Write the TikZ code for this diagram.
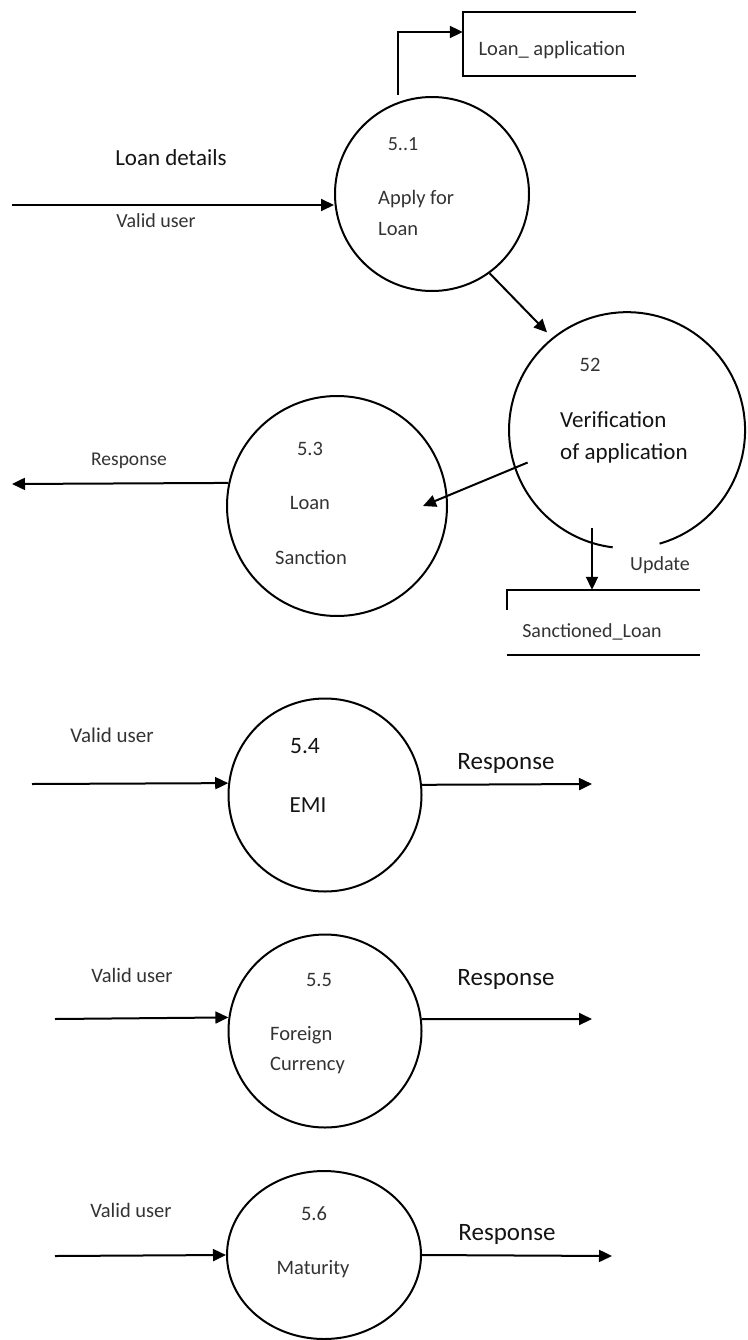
\documentclass[tikz,border=0pt]{standalone}
\usepackage{fontspec}
\setmainfont{Carlito}
\usetikzlibrary{arrows.meta,shapes.geometric}

\begin{document}
\begin{tikzpicture}[x=1pt,y=-1pt,
  proc/.style={circle,draw,line width=2pt,inner sep=0pt},
  edge/.style={line width=2pt},
  flow/.style={line width=2pt,-{Triangle[length=13pt,width=12pt]}},
  store/.style={inner sep=0pt},
  lbl/.style={inner sep=0pt,text=black!80,font=\fontsize{#1}{#1}\selectfont,
              text height=0.66em,text depth=0.2em},
  lbl/.default=20.5,
  big/.style={lbl=#1,text=black!92},
  big/.default=25]

\useasboundingbox (0,0) rectangle (747,1340);

% ---------- processes ----------
\node[proc,minimum size=194pt] (p1) at (432,194) {};
\node[circle,inner sep=0pt,minimum size=236pt] (p2) at (627,430) {};
\draw[edge] (p2.286) arc[start angle=286,end angle=623,radius=118pt];
\node[proc,minimum size=220pt] (p3) at (337,506) {};
\node[proc,minimum size=193pt] (p4) at (325,795) {};
\node[proc,minimum size=193pt] (p5) at (325,1031) {};
\node[ellipse,draw,line width=2pt,inner sep=0pt,
      minimum width=194pt,minimum height=168pt] (p6) at (324,1255) {};

% ---------- data stores ----------
\node[store,minimum width=173pt,minimum height=64pt] (ds1) at (549.5,44) {};
\draw[edge] (ds1.north east) -- (ds1.north west) -- (ds1.south west) -- (ds1.south east);
\node[store,minimum width=193pt,minimum height=65pt] (ds2) at (603.5,622.5) {};
\draw[edge] ([yshift=-20pt]ds2.north west) -- (ds2.north west) -- (ds2.north east);
\draw[edge] (ds2.south west) -- (ds2.south east);

% ---------- flows ----------
\coordinate (src1) at (12,205);
\draw[flow] (src1) -- (src1 -| p1.west);
\draw[flow] ([yshift=7pt]p1.110) |- ([yshift=12pt]ds1.west);
\draw[flow,shorten >=8pt] (p1.306) -- (p2.129);
\draw[flow] (p2.198) ++(13,-4) -- ([xshift=-25pt]p3.east);
\coordinate (u2) at ([shift={(-35,98)}]p2.center);
\draw[flow] (u2) -- (u2 |- ds2.north);
\coordinate (snk3) at (12,484);
\draw[flow] (p3.168.5) -- (snk3);

\coordinate (src4) at (32,784);
\coordinate (snk4) at (592,784);
\draw[flow] (src4) -- (p4.173.5);
\draw[flow] (p4.6.5) -- (snk4);

\coordinate (src5) at (55,1019);
\coordinate (snk5) at (592,1019);
\draw[flow] (src5) -- (p5.172.9);
\draw[flow] (p5.7.1) -- (snk5);

\coordinate (src6) at (55,1256);
\coordinate (snk6) at (612,1256);
\draw[flow] (src6) -- (p6.west);
\draw[flow] (p6.east) -- (snk6);

% ---------- labels ----------
\node[big=23] (tLoanDet) at (171,163) {Loan details};
\node[lbl=20] (tValid1) at (156,225) {Valid user};
\node[lbl] (tStore1) at (552,53) {Loan\_ application};
\node[lbl=20] (t51) at (403,148) {5..1};
\node[lbl,anchor=west] (t51a) at (378,202) {Apply for};
\node[lbl,anchor=west] (t51b) at (378,233) {Loan};

\node[lbl] (t52) at (590,369) {52};
\node[big=23,anchor=west] (t52a) at (560,425) {Verification};
\node[big=23,anchor=west] (t52b) at (560,457) {of application};
\node[lbl=20] (tUpd) at (660,568) {Update};
\node[lbl=20] (tStore2) at (592,635) {Sanctioned\_Loan};

\node[lbl=19.5] (tResp3) at (129,463) {Response};
\node[lbl] (t53) at (310,453) {5.3};
\node[lbl] (t53a) at (310,507) {Loan};
\node[lbl] (t53b) at (311,562) {Sanction};

\node[lbl=21] (tValid4) at (112,740) {Valid user};
\node[big=23.5] (t54) at (305,751) {5.4};
\node[big=23] (t54a) at (308,810) {EMI};
\node[big] (tResp4) at (506,767) {Response};

\node[lbl] (tValid5) at (132,980) {Valid user};
\node[lbl] (t55) at (319,984) {5.5};
\node[lbl,anchor=west] (t55a) at (270,1038) {Foreign};
\node[lbl,anchor=west] (t55b) at (270,1068) {Currency};
\node[big] (tResp5) at (506,983) {Response};

\node[lbl] (tValid6) at (131,1215) {Valid user};
\node[lbl] (t56) at (314,1218) {5.6};
\node[lbl] (t56a) at (313,1272) {Maturity};
\node[big] (tResp6) at (507,1238) {Response};
\end{tikzpicture}
\end{document}
